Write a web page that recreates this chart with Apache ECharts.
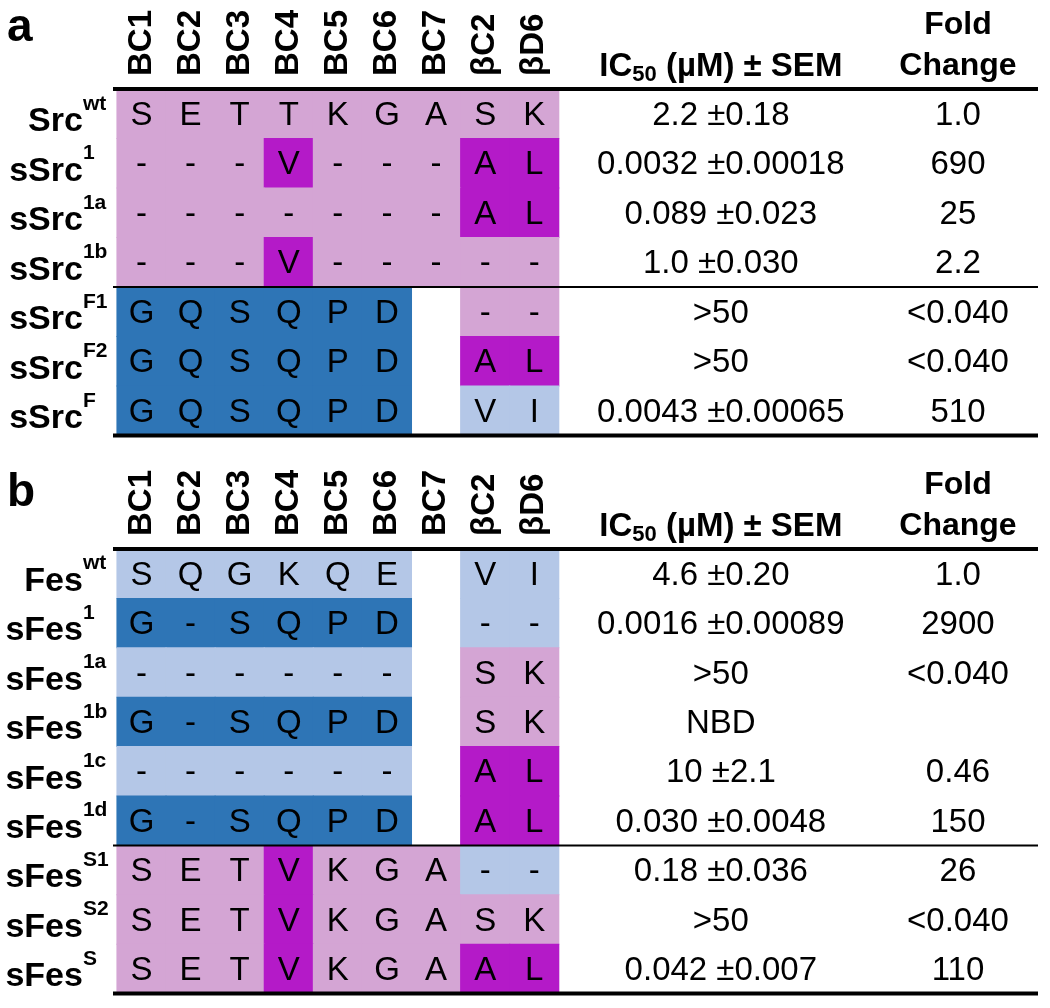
<!DOCTYPE html>
<html><head><meta charset="utf-8">
<script src="https://cdn.jsdelivr.net/npm/echarts@6/dist/echarts.min.js"></script>
<style>html,body{margin:0;padding:0;background:#fff}#c{width:1050px;height:1008px}</style>
</head><body><div id="c"></div>
<script>
// ---------------- data ----------------
const columns = ['BC1','BC2','BC3','BC4','BC5','BC6','BC7','βC2','βD6'];
const headerIC50 = 'IC{sub|50} (µM) ± SEM';
const headerFold = ['Fold','Change'];

const lettersPanel = ['a','b'];

const namesA    = ['Src','sSrc','sSrc','sSrc','sSrc','sSrc','sSrc'];
const supsA     = ['wt','1','1a','1b','F1','F2','F'];
const residuesA = ['SETTKGASK','---V---AL','-------AL','---V-----','GQSQPD --','GQSQPD AL','GQSQPD VI'];
const shadesA   = ['ppppppppp','pppmpppmm','pppppppmm','pppmppppp','ddddddwpp','ddddddwmm','ddddddwll'];
const ic50A     = ['2.2 ±0.18','0.0032 ±0.00018','0.089 ±0.023','1.0 ±0.030','>50','>50','0.0043 ±0.00065'];
const foldA     = ['1.0','690','25','2.2','<0.040','<0.040','510'];
const splitA    = 4;

const namesB    = ['Fes','sFes','sFes','sFes','sFes','sFes','sFes','sFes','sFes'];
const supsB     = ['wt','1','1a','1b','1c','1d','S1','S2','S'];
const residuesB = ['SQGKQE VI','G-SQPD --','------ SK','G-SQPD SK','------ AL','G-SQPD AL','SETVKGA--','SETVKGASK','SETVKGAAL'];
const shadesB   = ['llllllwll','ddddddwll','llllllwpp','ddddddwpp','llllllwmm','ddddddwmm','pppmpppll','pppmppppp','pppmpppmm'];
const ic50B     = ['4.6 ±0.20','0.0016 ±0.00089','>50','NBD','10 ±2.1','0.030 ±0.0048','0.18 ±0.036','>50','0.042 ±0.007'];
const foldB     = ['1.0','2900','<0.040','','0.46','150','26','<0.040','110'];
const splitB    = 6;

// ---------------- style / layout ----------------
const FONT = '"Liberation Sans", Arial, Helvetica, sans-serif';
const SHADE = {p:'#D4A5D4', m:'#B41AC8', d:'#2E75B6', l:'#B4C7E7'};
const X_MIN = -0.58, X_MAX = 18.26, X_IC = 11.8, X_FOLD = 16.63;

const chart = echarts.init(document.getElementById('c'), null, {renderer:'canvas'});

function buildPanel(gi, names, sups, residues, shades, ic50, fold, split, letter, letterDy) {
  const nR = names.length;
  const series = [];
  const cells = [];
  residues.forEach((row, r) => {
    for (let c = 0; c < columns.length; c++) cells.push({c, r, shade: shades[r][c], res: row[c]});
  });
  // cells
  series.push({
    type:'custom', xAxisIndex:gi, yAxisIndex:gi, silent:true,
    data: cells.map(o => [o.c, o.r]),
    renderItem: (params, api) => {
      const o = cells[params.dataIndex];
      const p = api.coord([o.c, o.r]);
      const s = api.size([1, 1]);
      const ch = [];
      if (SHADE[o.shade]) ch.push({type:'rect', shape:{x:p[0]-s[0]/2-0.5, y:p[1]-s[1]/2-0.5, width:s[0]+1, height:s[1]+1}, style:{fill:SHADE[o.shade]}});
      if (o.res && o.res !== ' ') ch.push({type:'text', x:p[0], y:p[1]+2, style:{text:o.res, font:'33px '+FONT, fill:'#000', align:'center', verticalAlign:'middle'}});
      return {type:'group', children:ch};
    }
  });
  // values (IC50, fold)
  const vals = [];
  for (let r = 0; r < nR; r++) { vals.push({x:X_IC, r, t:ic50[r]}); vals.push({x:X_FOLD, r, t:fold[r]}); }
  series.push({
    type:'custom', xAxisIndex:gi, yAxisIndex:gi, silent:true,
    data: vals.map(o => [o.x, o.r]),
    renderItem: (params, api) => {
      const o = vals[params.dataIndex];
      const p = api.coord([o.x, o.r]);
      return {type:'text', x:p[0], y:p[1]+2, style:{text:o.t, font:'33px '+FONT, fill:'#000', align:'center', verticalAlign:'middle'}};
    }
  });
  // row labels
  series.push({
    type:'custom', xAxisIndex:gi, yAxisIndex:gi, silent:true,
    data: names.map((n, r) => [-0.5, r]),
    renderItem: (params, api) => {
      const r = params.dataIndex;
      const p = api.coord([-0.5, r]);
      return {type:'group', children:[
        {type:'text', x:p[0]-34, y:p[1]+8, style:{text:names[r], font:'bold 34px '+FONT, fill:'#000', align:'right', verticalAlign:'middle'}},
        {type:'text', x:p[0]-34, y:p[1]-10, style:{text:sups[r], font:'bold 21px '+FONT, fill:'#000', align:'left', verticalAlign:'middle'}}
      ]};
    }
  });
  // headers
  const heads = columns.map((c, j) => ({x:j, t:c, kind:'col'}));
  heads.push({x:X_IC, t:headerIC50, kind:'ic'});
  heads.push({x:X_FOLD, t:headerFold, kind:'fold'});
  heads.push({x:X_MIN, t:letter, kind:'letter'});
  series.push({
    type:'custom', xAxisIndex:gi, yAxisIndex:gi, silent:true,
    data: heads.map(o => [o.x, 0]),
    renderItem: (params, api) => {
      const o = heads[params.dataIndex];
      const p = api.coord([o.x, 0]);
      const top = p[1] - api.size([0, 1])[1] / 2;
      if (o.kind === 'col') {
        return {type:'text', x:p[0], y:top-13, rotation:Math.PI/2,
          style:{text:o.t, font:'bold 33px '+FONT, fill:'#000', align:'left', verticalAlign:'middle'}};
      }
      if (o.kind === 'ic') {
        return {type:'text', x:p[0], y:top-22,
          style:{text:o.t, font:'bold 33px '+FONT, lineHeight:38, fill:'#000', align:'center', verticalAlign:'middle',
                 rich:{sub:{font:'bold 22px '+FONT, lineHeight:21, verticalAlign:'bottom', fill:'#000'}}}};
      }
      if (o.kind === 'fold') {
        return {type:'group', children:[
          {type:'text', x:p[0], y:top-64, style:{text:o.t[0], font:'bold 32px '+FONT, fill:'#000', align:'center', verticalAlign:'middle'}},
          {type:'text', x:p[0], y:top-23, style:{text:o.t[1], font:'bold 32px '+FONT, fill:'#000', align:'center', verticalAlign:'middle'}}
        ]};
      }
      return {type:'text', x:p[0]-106, y:top+letterDy, style:{text:o.t, font:'bold 46px '+FONT, fill:'#000', align:'left', verticalAlign:'middle'}};
    }
  });
  // rules
  const rules = [{b:0, w:4}, {b:split, w:2}, {b:nR, w:4}];
  series.push({
    type:'custom', xAxisIndex:gi, yAxisIndex:gi, silent:true, z:5,
    data: rules.map(o => [X_MIN, o.b]),
    renderItem: (params, api) => {
      const o = rules[params.dataIndex];
      const h = api.size([0, 1])[1];
      const y = o.b < nR ? api.coord([X_MIN, o.b])[1] - h/2 : api.coord([X_MIN, nR-1])[1] + h/2;
      const x1 = api.coord([X_MIN, 0])[0], x2 = api.coord([X_MAX, 0])[0];
      return {type:'line', shape:{x1, y1:y, x2, y2:y}, style:{stroke:'#000', lineWidth:o.w}};
    }
  });
  return series;
}

const seriesA = buildPanel(0, namesA, supsA, residuesA, shadesA, ic50A, foldA, splitA, lettersPanel[0], -61);
const seriesB = buildPanel(1, namesB, supsB, residuesB, shadesB, ic50B, foldB, splitB, lettersPanel[1], -56);

chart.setOption({
  animation:false,
  backgroundColor:'#fff',
  grid:[
    {left:113, right:12, top:89, height:346.5},
    {left:113, right:12, top:549, height:444.6}
  ],
  xAxis:[
    {gridIndex:0, type:'value', min:X_MIN, max:X_MAX, show:false},
    {gridIndex:1, type:'value', min:X_MIN, max:X_MAX, show:false}
  ],
  yAxis:[
    {gridIndex:0, type:'category', inverse:true, show:false, data:namesA.map((n,i)=>n+supsA[i])},
    {gridIndex:1, type:'category', inverse:true, show:false, data:namesB.map((n,i)=>n+supsB[i])}
  ],
  series: seriesA.concat(seriesB)
});
</script>
</body></html>
